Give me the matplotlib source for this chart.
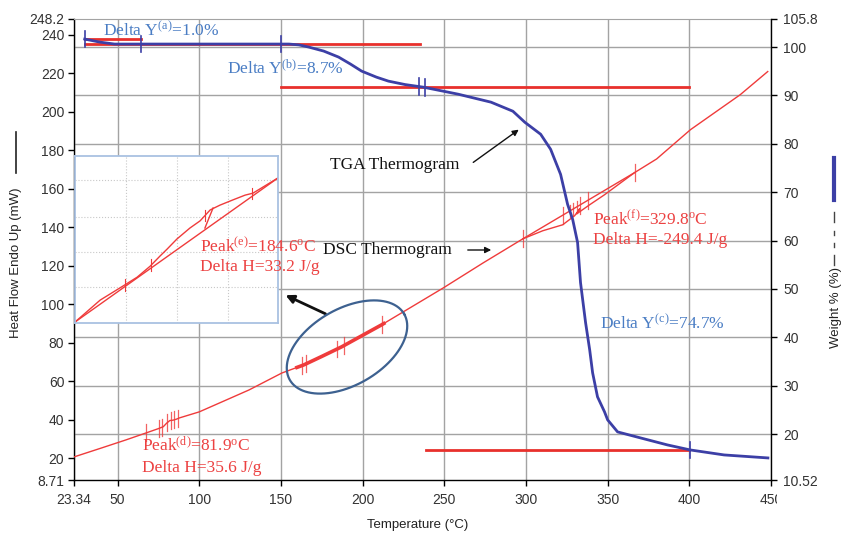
import numpy as np
import matplotlib
matplotlib.use('Agg')
import matplotlib.pyplot as plt
from matplotlib.transforms import Bbox, TransformedBbox
from matplotlib.lines import Line2D

plt.rcParams['font.family'] = ['Liberation Sans', 'DejaVu Sans']
plt.rcParams['mathtext.fontset'] = 'custom'
plt.rcParams['mathtext.rm'] = 'Liberation Serif'
plt.rcParams['mathtext.it'] = 'Liberation Serif:italic'

W, H = 841, 534

# ---------------- data ----------------
temp_ticks = [23.34, 50, 100, 150, 200, 250, 300, 350, 400, 450]
temp_labels = ['23.34', '50', '100', '150', '200', '250', '300', '350', '400', '450']
hf_ticks = [8.71, 20, 40, 60, 80, 100, 120, 140, 160, 180, 200, 220, 240, 248.2]
hf_labels = ['8.71', '20', '40', '60', '80', '100', '120', '140', '160', '180',
             '200', '220', '240', '248.2']
wt_ticks = [10.52, 20, 30, 40, 50, 60, 70, 80, 90, 100, 105.8]
wt_labels = ['10.52', '20', '30', '40', '50', '60', '70', '80', '90', '100', '105.8']
wt_grid = [20, 30, 40, 50, 60, 70, 80, 90, 100, 105.8]

# DSC thermogram (heat flow, mW)
dsc_T = [23.34, 40, 55, 67.6, 75, 78, 80, 82, 84, 86, 88, 100, 115, 130.5, 150.6,
         164, 175, 187.2, 211.6, 237.2, 249.4, 273.8, 298.1, 310.3, 322.5, 329.8,
         332.9, 331.1, 339.0, 348.1, 357.2, 366.5, 380.0, 400.7, 431.2, 448.0]
dsc_HF = [20.7, 25.3, 29.5, 33.2, 35.4, 36.4, 38.2, 39.6, 39.8, 40.3, 41.0, 44.1,
          49.7, 55.5, 64.3, 68.5, 72.9, 77.9, 89.3, 102.3, 108.5, 121.5, 134.0,
          138.2, 141.3, 146.0, 149.6, 147.0, 151.7, 156.9, 162.6, 168.4, 175.5,
          190.7, 208.9, 220.9]
dsc_peakf_base_T = [298.1, 366.5]
dsc_peakf_base_HF = [134.0, 168.4]
dsc_mark_T = [67.6, 75.6, 77.4, 80.5, 83.0, 84.8, 87.2,
              163.0, 165.5, 184.4, 188.7, 211.9,
              298.1, 322.5, 327.0, 329.0, 331.0, 332.9, 337.8, 366.5]
dsc_zoom_range = [159.8, 213.0]

# TGA thermogram (weight %)
tga_T = [29.9, 39, 48.2, 60, 100, 154.9, 161, 167, 176.2, 185.3, 192.6, 199.4, 208.5,
         215.8, 226, 237.2, 258.5, 278.6, 292, 299.3, 309, 315.1, 321.2, 325.5, 328.6,
         331.6, 333.4, 336.5, 339, 340.8, 343.8, 348.1, 350, 356.1, 370.1, 386.6,
         400.6, 421.3, 448.1]
tga_W = [101.65, 101.03, 100.62, 100.62, 100.62, 100.62, 100.45, 100.0, 99.17, 97.93,
         96.48, 95.03, 93.78, 92.96, 92.25, 91.71, 90.26, 88.61, 86.74, 84.46, 81.98,
         78.87, 73.69, 67.48, 64.37, 59.61, 51.32, 43.04, 37.45, 32.68, 27.71,
         24.60, 22.95, 20.46, 19.22, 17.77, 16.73, 15.70, 15.08]
tga_base_T = [[30.0, 64.5], [30.0, 235.4], [150.0, 400.0], [239.0, 400.0]]
tga_base_W = [[101.65, 101.65], [100.62, 100.62], [91.71, 91.71], [16.73, 16.73]]
tga_mark_T = [29.9, 64.5, 150.3, 234.8, 238.4, 400.3]

# Inset (zoom of peak e)
inset_T = [160, 166.2, 172.3, 175.3, 178.5, 180.9, 182.7, 185.1, 188.3, 190.8,
           193.3, 195.7, 198.9, 201.9, 203.8, 210]
inset_HF = [60.2, 64.8, 68.0, 69.6, 71.9, 74.0, 75.5, 77.6, 79.9, 81.4, 83.7,
            84.7, 85.8, 86.8, 87.2, 90.4]
inset_base_T = [160, 210]
inset_base_HF = [60.2, 90.4]
inset_step_T = [192.0, 194.0]
inset_step_HF = [79.9, 84.1]
inset_mark_T = [172.3, 178.8, 192.0, 203.6]
inset_grid_T = [172.6, 185.1, 197.7]
inset_grid_HF = [67.5, 74.9, 82.2, 90.0]

# ---------------- style ----------------
RED = '#ef3b3b'
BLUE = '#3c3fa6'
TXTBLUE = '#4a7dc4'
TXTRED = '#ec4141'
GRID = '#a3a3a3'
SERIF = 'Liberation Serif'


def P(x, y):
    return (x / W, 1 - y / H)


fig = plt.figure(figsize=(W / 100, H / 100), dpi=100)
ax = fig.add_axes([74 / W, 1 - 480 / H, (771 - 74) / W, (480 - 19) / H])
ax2 = ax.twinx()

ax.set_xlim(23.34, 450)
ax.set_ylim(8.71, 248.2)
ax2.set_ylim(10.52, 105.8)

ax.set_xticks(temp_ticks, temp_labels)
ax.set_yticks(hf_ticks, hf_labels)
ax2.set_yticks(wt_ticks, wt_labels)

# horizontal grid follows right-axis ticks
hf_lo, hf_hi = ax.get_ylim()
w_lo, w_hi = ax2.get_ylim()
hf_eq = [hf_lo + (w - w_lo) / (w_hi - w_lo) * (hf_hi - hf_lo) for w in wt_grid]
ax.set_yticks(hf_eq, minor=True)
ax.tick_params(axis='y', which='minor', length=0)
ax.grid(axis='y', which='minor', color=GRID, lw=1.0)
ax.grid(axis='x', which='major', color=GRID, lw=1.0)
ax.set_axisbelow(True)

for s in ['left', 'bottom']:
    ax.spines[s].set_color('black')
    ax.spines[s].set_linewidth(1.0)
ax.spines['top'].set_color(GRID)
ax.spines['right'].set_visible(False)
for s in ['top', 'left', 'bottom']:
    ax2.spines[s].set_visible(False)
ax2.spines['right'].set_color('black')
ax2.spines['right'].set_linewidth(1.0)

ax.tick_params(axis='both', which='major', direction='out', length=4, width=1,
               labelsize=10, labelcolor='#333333', pad=3)
ax.tick_params(axis='x', pad=5)
ax2.tick_params(axis='y', direction='out', length=4, width=1, labelsize=10,
                labelcolor='#333333', pad=5)

# ---- DSC ----
ax.plot(dsc_T, dsc_HF, color=RED, lw=1.0, zorder=3)
ax.plot(dsc_peakf_base_T, dsc_peakf_base_HF, color=RED, lw=1.0, zorder=3)
dT = np.array(dsc_T)
dH = np.array(dsc_HF)
mono_T = dT[:22]
mono_H = dH[:22]
msk = (mono_T >= dsc_zoom_range[0]) & (mono_T <= dsc_zoom_range[1])
zt = np.concatenate([[dsc_zoom_range[0]], mono_T[msk], [dsc_zoom_range[1]]])
zh = np.interp(zt, mono_T, mono_H)
ax.plot(zt, zh, color=RED, lw=2.6, zorder=3)
for t in dsc_mark_T:
    if t < 290:
        c = np.interp(t, mono_T, mono_H)
    else:
        c = np.interp(t, dsc_peakf_base_T, dsc_peakf_base_HF)
    hh = 3.0 if 326 < t < 332 else 4.4
    ax.plot([t, t], [c - hh, c + hh], color=RED, lw=0.9, alpha=0.8, zorder=3)

# ---- TGA ----
for bt, bw in zip(tga_base_T, tga_base_W):
    ax2.plot(bt, bw, color='#e8302c', lw=2.0, zorder=2)
ax2.plot(tga_T, tga_W, color=BLUE, lw=2.0, zorder=3)
for t in tga_mark_T:
    c = np.interp(t, tga_T, tga_W)
    ax2.plot([t, t], [c - 1.7, c + 1.7], color=BLUE, lw=1.2, zorder=4)

# ---- axis labels & legend marks ----
fig.text(*P(418, 525), 'Temperature (°C)', ha='center', va='center', fontsize=9.5,
         color='#222222')
fig.text(*P(16, 263), 'Heat Flow Endo Up (mW)', ha='center', va='center',
         rotation=90, fontsize=9.5, color='#222222')
fig.text(*P(836, 308), 'Weight % (%)', ha='center', va='center',
         rotation=90, fontsize=9.5, color='#222222')
fig.add_artist(Line2D([16 / W, 16 / W], [1 - 132 / H, 1 - 173 / H], color='#222222', lw=1.2))
fig.add_artist(Line2D([834 / W, 834 / W], [1 - 158 / H, 1 - 200 / H], color=BLUE, lw=3.0))
for a, b in [(212, 222), (231, 235), (243, 247), (255, 265)]:
    fig.add_artist(Line2D([834 / W, 834 / W], [1 - a / H, 1 - b / H], color='#444444', lw=1.0))

# ---- annotations ----
ann = dict(fontsize=12.5, family=SERIF, va='center', ha='left')
fig.text(*P(103, 30), r'Delta Y$^{\mathrm{(a)}}$=1.0%', color=TXTBLUE, **ann)
fig.text(*P(227, 69), r'Delta Y$^{\mathrm{(b)}}$=8.7%', color=TXTBLUE, **ann)
fig.text(*P(600, 323), r'Delta Y$^{\mathrm{(c)}}$=74.7%', color=TXTBLUE, **ann)
fig.text(*P(330, 165), 'TGA Thermogram', color='#111111', **ann)
fig.text(*P(323, 250), 'DSC Thermogram', color='#111111', **ann)
fig.text(*P(200, 246), r'Peak$^{\mathrm{(e)}}$=184.6$^{\mathrm{o}}$C', color=TXTRED, **ann)
fig.text(*P(200, 267), 'Delta H=33.2 J/g', color=TXTRED, **ann)
fig.text(*P(593, 219), r'Peak$^{\mathrm{(f)}}$=329.8$^{\mathrm{o}}$C', color=TXTRED, **ann)
fig.text(*P(593, 240), 'Delta H=-249.4 J/g', color=TXTRED, **ann)
fig.text(*P(142, 446), r'Peak$^{\mathrm{(d)}}$=81.9$^{\mathrm{o}}$C', color=TXTRED, **ann)
fig.text(*P(142, 468), 'Delta H=35.6 J/g', color=TXTRED, **ann)

arr = dict(arrowstyle='-|>', color='#111111', lw=1.0, mutation_scale=9)
ax.annotate('', xy=P(521, 128), xytext=P(471, 164), xycoords='figure fraction',
            textcoords='figure fraction', arrowprops=arr)
ax.annotate('', xy=P(494, 250), xytext=P(465, 250), xycoords='figure fraction',
            textcoords='figure fraction', arrowprops=arr)
ax.annotate('', xy=P(283, 294), xytext=P(328, 315), xycoords='figure fraction',
            textcoords='figure fraction',
            arrowprops=dict(arrowstyle='-|>', color='#111111', lw=2.0, mutation_scale=12))

# ellipse around the peak-e region (drawn in figure pixels)
th = np.linspace(0, 2 * np.pi, 200)
ang = np.deg2rad(-30)
ex = 347 + 66 * np.cos(th) * np.cos(ang) - 38 * np.sin(th) * np.sin(ang)
ey = 347 + 66 * np.cos(th) * np.sin(ang) + 38 * np.sin(th) * np.cos(ang)
fig.add_artist(Line2D(ex / W, 1 - ey / H, color='#3d6190', lw=1.6))

# ---- inset ----
axi = fig.add_axes([75 / W, 1 - 323 / H, 203 / W, 167 / H])
axi.set_xlim(160, 210)
axi.set_ylim(60, 95)
axi.set_xticks([])
axi.set_yticks([])
for s in axi.spines.values():
    s.set_color('#a9c1e2')
    s.set_linewidth(1.3)
for g in inset_grid_T:
    axi.axvline(g, color='#c8c8c8', lw=0.8, ls=':')
for g in inset_grid_HF:
    axi.axhline(g, color='#c8c8c8', lw=0.8, ls=':')
axi.plot(inset_base_T, inset_base_HF, color=RED, lw=1.0)
axi.plot(inset_T, inset_HF, color=RED, lw=1.0)
axi.plot(inset_step_T, inset_step_HF, color=RED, lw=1.0)
for t in inset_mark_T:
    c = np.interp(t, inset_T, inset_HF)
    axi.plot([t, t], [c - 1.2, c + 1.2], color=RED, lw=0.8)

# clip last x label like the reference ("45")
fig.canvas.draw()
clipbox = TransformedBbox(Bbox.from_extents(0, 0, 777 / W, 1), fig.transFigure)
for tick in ax.xaxis.get_major_ticks():
    if tick.label1.get_text() == '450':
        tick.label1.set_clip_box(clipbox)
        tick.label1.set_clip_on(True)

fig.savefig('out.png', dpi=100)
